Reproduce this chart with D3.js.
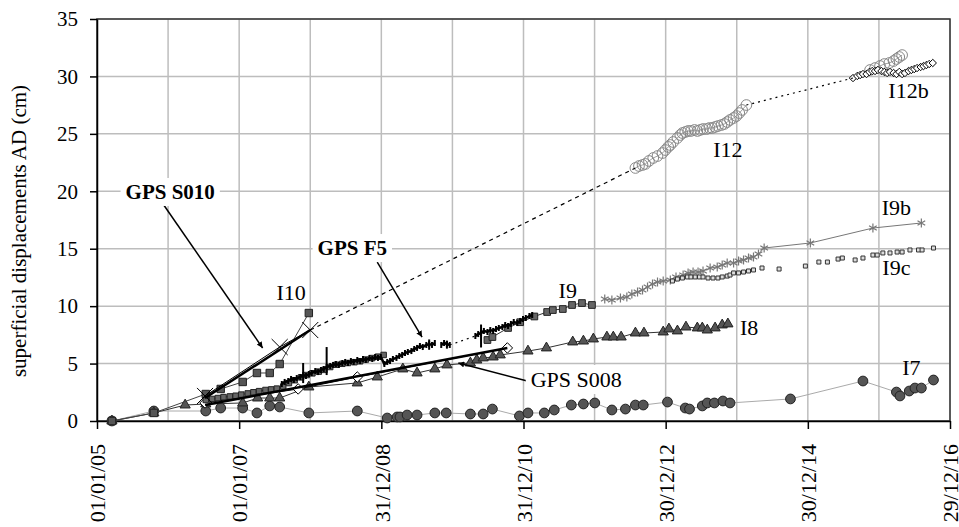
<!DOCTYPE html>
<html>
<head>
<meta charset="utf-8">
<script src="https://cdnjs.cloudflare.com/ajax/libs/d3/7.8.5/d3.min.js"></script>
<style>
  body { margin: 0; background: #fff; }
  text { font-family: "Liberation Serif", "Times New Roman", serif; fill: #000; }
</style>
</head>
<body>
<div id="chart"></div>
<script>
// Data: [decimal year, superficial displacement (cm)]
var xTickLabels = ["01/01/05", "01/01/07", "31/12/08", "31/12/10", "30/12/12", "30/12/14", "29/12/16"];
var yTicks = [0, 5, 10, 15, 20, 25, 30, 35];

var i7 = [[2005.21,0],[2005.80,0.87],[2006.53,0.87],[2006.74,1.13],[2007.05,1.13],[2007.25,0.70],[2007.43,1.31],
  [2007.57,1.22],[2007.98,0.70],[2008.66,0.87],[2009.08,0.26],[2009.22,0.35],[2009.26,0.35],[2009.36,0.52],
  [2009.50,0.52],[2009.75,0.70],[2009.91,0.70],[2010.25,0.61],[2010.43,0.61],[2010.56,1.04],[2010.94,0.44],
  [2011.06,0.70],[2011.29,0.70],[2011.43,0.96],[2011.67,1.39],[2011.84,1.48],[2012.00,1.57],[2012.24,0.96],
  [2012.43,1.04],[2012.57,1.39],[2012.68,1.39],[2013.02,1.65],[2013.27,1.13],[2013.33,1.04],[2013.51,1.31],
  [2013.58,1.57],[2013.68,1.57],[2013.80,1.74],[2013.90,1.57],[2014.75,1.92],[2015.77,3.48],[2016.24,2.52],
  [2016.29,2.18],[2016.42,2.61],[2016.50,2.87],[2016.59,2.87],[2016.76,3.57]];

var i8 = [[2005.21,0],[2005.80,0.70],[2006.24,1.39],[2006.53,1.48],[2007.05,1.57],[2007.26,2.00],[2007.43,2.00],
  [2007.57,2.00],[2007.98,2.96],[2008.66,3.31],[2008.94,3.83],[2009.30,4.53],[2009.50,4.18],[2009.75,4.53],
  [2009.92,4.88],[2010.25,5.05],[2010.34,5.31],[2010.43,5.49],[2010.57,5.57],[2010.67,5.75],[2011.06,6.09],
  [2011.32,6.36],[2011.69,6.88],[2011.84,6.96],[2011.98,7.14],[2012.17,7.31],[2012.26,7.31],[2012.37,7.31],
  [2012.57,7.66],[2012.69,7.66],[2012.96,7.75],[2013.04,8.01],[2013.16,7.84],[2013.28,8.18],[2013.44,8.10],
  [2013.51,8.10],[2013.58,7.92],[2013.69,8.10],[2013.79,8.36],[2013.87,8.45]];

var i9Early = [[2006.53,1.83],[2006.62,1.92],[2006.70,2.00],[2006.78,2.08],[2006.87,2.14],[2006.95,2.20],
  [2007.03,2.30],[2007.12,2.40],[2007.20,2.50],[2007.28,2.60],[2007.37,2.70],[2007.45,2.75],[2007.53,2.82],
  [2007.62,3.00],[2007.70,3.30],[2007.78,3.55],[2007.87,3.80],[2007.95,4.00],[2008.03,4.15],[2008.12,4.30],
  [2008.20,4.45],[2008.28,4.70],[2008.37,4.90],[2008.45,4.98],[2008.53,5.05],[2008.62,5.12],[2008.70,5.20],
  [2008.78,5.35],[2008.87,5.48],[2008.95,5.60],[2009.03,5.75]];

var i9Late = [[2010.49,7.05],[2010.56,7.31],[2010.78,8.10],[2010.95,8.60],[2011.15,9.10],[2011.33,9.49],
  [2011.41,9.66],[2011.55,9.75],[2011.68,10.10],[2011.82,10.27],[2011.96,10.10]];

var i10 = [[2005.21,0],[2005.80,0.70],[2006.53,2.35],[2006.74,2.79],[2007.05,3.40],[2007.25,4.18],
  [2007.43,4.18],[2007.57,4.96],[2007.98,9.40]];

var gpsS010 = [[2006.52,2.18],[2007.57,6.44],[2008.00,7.92]];
var gpsS010Trend = [[2006.52,2.00],[2008.00,7.92]];

var gpsS008 = [[2006.52,1.57],[2007.83,2.79],[2008.66,3.83],[2010.77,6.36]];
var gpsS008Trend = [[2006.52,1.39],[2010.77,6.36]];

var gpsF5a = [[2007.60,3.22],[2007.64,3.40],[2007.69,3.48],[2007.73,3.66],[2007.77,3.57],[2007.81,3.74],
  [2007.86,3.83],[2007.90,4.00],[2007.94,3.92],[2007.98,4.09],[2008.02,4.18],[2008.07,4.35],[2008.11,4.26],
  [2008.15,4.44],[2008.19,4.53],[2008.23,4.70],[2008.28,4.79],[2008.32,4.88],[2008.36,4.96],[2008.40,4.88],
  [2008.45,5.05],[2008.49,5.14],[2008.53,5.05],[2008.57,5.22],[2008.61,5.14],[2008.66,5.31],[2008.70,5.22],
  [2008.74,5.40],[2008.78,5.31],[2008.83,5.49],[2008.87,5.40],[2008.91,5.57],[2008.95,5.49],[2008.99,5.57],
  [2009.04,4.96],[2009.08,5.14],[2009.12,5.22],[2009.16,5.40],[2009.21,5.49],[2009.25,5.66],[2009.29,5.75],
  [2009.33,5.92],[2009.37,6.01],[2009.42,6.09],[2009.46,6.27],[2009.50,6.36],[2009.54,6.53],[2009.58,6.44],
  [2009.63,6.62],[2009.67,6.70],[2009.71,6.62],[2009.75,6.79]];
var gpsF5b = [[2009.84,6.62],[2009.88,6.79],[2009.92,6.70],[2009.96,6.62]];
var gpsF5c = [[2010.32,7.40],[2010.36,7.57],[2010.40,7.66],[2010.44,7.84],[2010.49,7.75],[2010.53,7.92],
  [2010.57,7.84],[2010.61,8.01],[2010.65,8.10],[2010.70,8.18],[2010.74,8.36],[2010.78,8.27],[2010.82,8.45],
  [2010.86,8.62],[2010.91,8.53],[2010.95,8.71],[2010.99,8.88],[2011.03,8.97],[2011.08,9.14],[2011.12,9.23]];
// [year, low, high] of the isolated outlier readings
var gpsF5Spikes = [[2007.90,3.30,5.05],[2008.23,4.00,6.44],[2010.40,6.40,8.40],[2009.67,6.20,7.10],[2009.92,6.30,7.00]];

var i9b = [[2012.14,10.62],[2012.24,10.53],[2012.36,10.71],[2012.45,10.80],[2012.52,11.06],[2012.60,11.23],
  [2012.67,11.41],[2012.74,11.67],[2012.81,11.93],[2012.88,12.10],[2012.96,12.19],[2013.06,12.28],[2013.14,12.54],
  [2013.24,12.71],[2013.31,12.89],[2013.38,12.97],[2013.45,12.97],[2013.52,13.06],[2013.62,13.32],[2013.72,13.41],
  [2013.79,13.58],[2013.86,13.76],[2013.95,13.76],[2014.02,13.93],[2014.09,14.02],[2014.16,14.19],[2014.23,14.28],
  [2014.30,14.54],[2014.38,15.06],[2015.03,15.50],[2015.91,16.80],[2016.59,17.24]];

var i9c = [[2013.09,12.19],[2013.16,12.36],[2013.23,12.45],[2013.30,12.54],[2013.35,12.54],[2013.41,12.54],
  [2013.47,12.54],[2013.52,12.54],[2013.59,12.45],[2013.66,12.45],[2013.73,12.45],[2013.79,12.54],[2013.86,12.62],
  [2013.90,12.71],[2013.95,12.89],[2014.02,12.89],[2014.09,12.97],[2014.16,13.06],[2014.23,13.15],[2014.35,13.32],
  [2014.59,13.23],[2014.96,13.49],[2015.15,13.84],[2015.27,13.84],[2015.42,14.10],[2015.48,14.19],[2015.66,14.02],
  [2015.77,14.19],[2015.91,14.45],[2015.97,14.45],[2016.05,14.63],[2016.15,14.63],[2016.25,14.71],[2016.32,14.71],
  [2016.43,14.89],[2016.55,14.89],[2016.60,14.89],[2016.76,15.06]];

var i12 = [[2012.57,22.03],[2012.62,22.20],[2012.67,22.29],[2012.71,22.38],[2012.76,22.64],[2012.82,22.90],
  [2012.88,23.07],[2012.95,23.33],[2012.99,23.59],[2013.03,23.86],[2013.06,24.03],[2013.10,24.29],[2013.16,24.64],
  [2013.20,24.90],[2013.23,25.07],[2013.27,25.16],[2013.31,25.25],[2013.35,25.25],[2013.40,25.34],[2013.44,25.25],
  [2013.48,25.34],[2013.52,25.42],[2013.57,25.42],[2013.61,25.51],[2013.65,25.51],[2013.69,25.60],[2013.73,25.68],
  [2013.78,25.77],[2013.82,25.86],[2013.86,26.03],[2013.90,26.21],[2013.95,26.38],[2013.99,26.55],[2014.03,26.81],
  [2014.07,27.08],[2014.13,27.51]];
var i12Late = [[2015.87,30.56],[2015.94,30.73],[2016.01,30.91],[2016.07,31.08],[2016.14,31.17],[2016.20,31.34],
  [2016.24,31.52],[2016.28,31.69],[2016.32,31.86]];

var i12b = [[2015.63,29.86],[2015.69,30.04],[2015.73,30.12],[2015.77,30.21],[2015.82,30.21],[2015.86,30.39],
  [2015.90,30.47],[2015.94,30.47],[2015.98,30.56],[2016.03,30.47],[2016.07,30.39],[2016.11,30.30],[2016.15,30.39],
  [2016.20,30.30],[2016.24,30.21],[2016.28,30.39],[2016.32,30.21],[2016.36,30.30],[2016.41,30.47],[2016.45,30.56],
  [2016.49,30.64],[2016.53,30.73],[2016.58,30.82],[2016.62,30.90],[2016.66,30.99],[2016.70,31.08],[2016.75,31.17]];

// series labels: [text, year, value]
var seriesLabels = [["I10",2007.73,10.53],["I9",2011.62,10.71],["I8",2014.17,7.49],["I7",2016.45,4.0],
  ["I12",2013.87,22.98],["I12b",2016.41,28.12],["I9b",2016.24,17.93],["I9c",2016.24,12.71]];

// callouts: text, text anchor, arrow start, arrow end (year, value)
var callouts = [
  {text: "GPS S010", bold: true,  at: [2006.03,19.33], from: [2005.91,19.07], to: [2007.33,6.36]},
  {text: "GPS F5",   bold: true,  at: [2008.59,14.45], from: [2008.94,13.84], to: [2009.57,7.31]},
  {text: "GPS S008", bold: false, at: [2011.74,2.96],  from: [2011.05,3.48],  to: [2010.08,5.05]}
];

// Set up chart
var svgWidth = 959;
var svgHeight = 527;
var margin = {top: 19, right: 9, bottom: 106, left: 97};
var width = svgWidth - margin.left - margin.right;
var height = svgHeight - margin.top - margin.bottom;

var svg = d3.select("#chart").append("svg")
  .attr("width", svgWidth)
  .attr("height", svgHeight);

var defs = svg.append("defs");
defs.append("marker")
  .attr("id", "arrow")
  .attr("viewBox", "0 0 10 10")
  .attr("refX", 10).attr("refY", 5)
  .attr("markerWidth", 6).attr("markerHeight", 6)
  .attr("markerUnits", "userSpaceOnUse")
  .attr("orient", "auto")
  .append("path").attr("d", "M0,0 L10,5 L0,10 Z").attr("fill", "#000");

var chartGroup = svg.append("g")
  .attr("transform", `translate(${margin.left}, ${margin.top})`);

var parseTick = d3.utcParse("%d/%m/%y");
var tickDates = xTickLabels.map(parseTick);

function toDate(yr) {
  var y0 = Math.floor(yr);
  var s = Date.UTC(y0, 0, 1), e = Date.UTC(y0 + 1, 0, 1);
  return new Date(s + (yr - y0) * (e - s));
}

var xScale = d3.scaleUtc()
  .domain([tickDates[0], tickDates[tickDates.length - 1]])
  .range([0, width]);

var yScale = d3.scaleLinear()
  .domain([0, 35])
  .range([height, 0]);

// grid: one line every 365 days
var gridDates = d3.range(13).map(i => d3.utcDay.offset(tickDates[0], 365 * i));

chartGroup.append("g").selectAll("line").data(gridDates).enter().append("line")
  .attr("x1", d => xScale(d)).attr("x2", d => xScale(d))
  .attr("y1", 0).attr("y2", height)
  .attr("stroke", "#bdbdbd").attr("stroke-width", 1.5);

chartGroup.append("g").selectAll("line").data(yTicks).enter().append("line")
  .attr("x1", 0).attr("x2", width)
  .attr("y1", d => yScale(d)).attr("y2", d => yScale(d))
  .attr("stroke", "#bdbdbd").attr("stroke-width", 1.5);

// frame
chartGroup.append("rect")
  .attr("width", width).attr("height", height)
  .attr("fill", "none").attr("stroke", "#333").attr("stroke-width", 1.5);

// Axes
var bottomAxis = d3.axisBottom(xScale)
  .tickValues(tickDates)
  .tickFormat((d, i) => xTickLabels[i])
  .tickSize(8).tickSizeOuter(0);

var xAxisG = chartGroup.append("g")
  .attr("transform", `translate(0, ${height})`)
  .call(bottomAxis);
xAxisG.selectAll("text")
  .attr("transform", "rotate(-90)")
  .attr("x", -23).attr("y", 0).attr("dy", "0.35em")
  .style("text-anchor", "end")
  .style("font-size", "22px");

var leftAxis = d3.axisLeft(yScale)
  .tickValues(yTicks)
  .tickSize(7).tickPadding(12).tickSizeOuter(0);

var yAxisG = chartGroup.append("g").call(leftAxis);
yAxisG.selectAll("text").style("font-size", "21px");

[xAxisG, yAxisG].forEach(function(g) {
  g.select(".domain").attr("stroke", "#000").attr("stroke-width", 1.5);
  g.selectAll(".tick line").attr("stroke", "#000").attr("stroke-width", 1.5);
  g.selectAll("text").style("font-family", "'Liberation Serif', serif").attr("fill", "#000");
});

// y axis title
svg.append("text")
  .attr("transform", `translate(26, 231) rotate(-90)`)
  .attr("text-anchor", "middle")
  .style("font-size", "21px")
  .text("superficial displacements AD (cm)");

// helpers
var line = d3.line()
  .x(d => xScale(toDate(d[0])))
  .y(d => yScale(d[1]));

function addLine(data, color, w, dash) {
  chartGroup.append("path").datum(data)
    .attr("d", line)
    .attr("fill", "none")
    .attr("stroke", color)
    .attr("stroke-width", w)
    .attr("stroke-dasharray", dash || null);
}

function addMarkers(data, type, size, fill, stroke, sw) {
  chartGroup.append("g").selectAll("path").data(data).enter().append("path")
    .attr("transform", d => `translate(${xScale(toDate(d[0]))}, ${yScale(d[1])})`)
    .attr("d", d3.symbol().type(type).size(size))
    .attr("fill", fill)
    .attr("stroke", stroke)
    .attr("stroke-width", sw);
}

// I7
addLine(i7, "#aaa", 1);
addMarkers(i7, d3.symbolCircle, 75, "#555", "#222", 1);

// I8
addLine(i8, "#333", 1);
addMarkers(i8, d3.symbolTriangle, 45, "#555", "#222", 1);

// GPS S008
addLine(gpsS008, "#000", 1);
addMarkers(gpsS008, d3.symbolDiamond2, 70, "#fff", "#000", 1);

// I9
addLine(i9Early, "#333", 1);
addMarkers(i9Early, d3.symbolSquare, 30, "#666", "#222", 1);
addLine(i9Late, "#333", 1);
addMarkers(i9Late, d3.symbolSquare, 45, "#666", "#222", 1);

// GPS F5
addLine(gpsF5a, "#000", 2.5);
addLine(gpsF5b, "#000", 2.5);
addLine(gpsF5c, "#000", 2.5);
addLine([gpsF5b[gpsF5b.length - 1], gpsF5c[0]], "#000", 1.2, "2,4");
chartGroup.append("g").selectAll("line").data(gpsF5a.concat(gpsF5b, gpsF5c)).enter().append("line")
  .attr("x1", d => xScale(toDate(d[0]))).attr("x2", d => xScale(toDate(d[0])))
  .attr("y1", d => yScale(d[1]) - 3).attr("y2", d => yScale(d[1]) + 3)
  .attr("stroke", "#000").attr("stroke-width", 2);
chartGroup.append("g").selectAll("line").data(gpsF5Spikes).enter().append("line")
  .attr("x1", d => xScale(toDate(d[0]))).attr("x2", d => xScale(toDate(d[0])))
  .attr("y1", d => yScale(d[1])).attr("y2", d => yScale(d[2]))
  .attr("stroke", "#000").attr("stroke-width", 2);

// I10
addLine(i10, "#444", 1);
addMarkers(i10, d3.symbolSquare, 55, "#555", "#222", 1);

// GPS S010
addLine(gpsS010, "#000", 1);
addMarkers(gpsS010, d3.symbolTimes, 170, "none", "#000", 1);

// trend lines
addLine(gpsS010Trend, "#000", 2.5);
addLine(gpsS008Trend, "#000", 2.5);

// I9b
addLine(i9b, "#777", 1);
addMarkers(i9b, d3.symbolAsterisk, 55, "none", "#777", 1.2);

// I9c
addMarkers(i9c, d3.symbolSquare, 16, "#ddd", "#333", 1);

// I12
addLine(i12, "#888", 0.8);
addMarkers(i12, d3.symbolCircle, 90, "none", "#888", 1);
addLine(i12Late, "#888", 0.8);
addMarkers(i12Late, d3.symbolCircle, 90, "none", "#888", 1);

// I12b
addLine(i12b, "#000", 1.5);
addMarkers(i12b, d3.symbolDiamond2, 35, "#fff", "#000", 1);

// connecting extrapolations
addLine([gpsS010[gpsS010.length - 1], i12[0]], "#000", 1.2, "4,4");
addLine([i12[i12.length - 1], i12b[0]], "#000", 1.2, "2,4");

// series labels
chartGroup.append("g").selectAll("text").data(seriesLabels).enter().append("text")
  .attr("x", d => xScale(toDate(d[1])))
  .attr("y", d => yScale(d[2]))
  .attr("text-anchor", "middle")
  .style("font-size", "22px")
  .text(d => d[0]);

// callouts with arrows
callouts.forEach(function(c) {
  chartGroup.append("line")
    .attr("x1", xScale(toDate(c.from[0]))).attr("y1", yScale(c.from[1]))
    .attr("x2", xScale(toDate(c.to[0]))).attr("y2", yScale(c.to[1]))
    .attr("stroke", "#000").attr("stroke-width", 1.5)
    .attr("marker-end", "url(#arrow)");
  var g = chartGroup.append("g");
  var t = g.append("text")
    .attr("x", xScale(toDate(c.at[0])))
    .attr("y", yScale(c.at[1]))
    .attr("text-anchor", "middle")
    .style("font-size", c.bold ? "21px" : "22px")
    .style("font-weight", c.bold ? "bold" : "normal")
    .text(c.text);
  var bb = t.node().getBBox();
  g.insert("rect", "text")
    .attr("x", bb.x - 5).attr("y", bb.y - 2)
    .attr("width", bb.width + 10).attr("height", bb.height + 4)
    .attr("fill", "#fff");
});
</script>
</body>
</html>
